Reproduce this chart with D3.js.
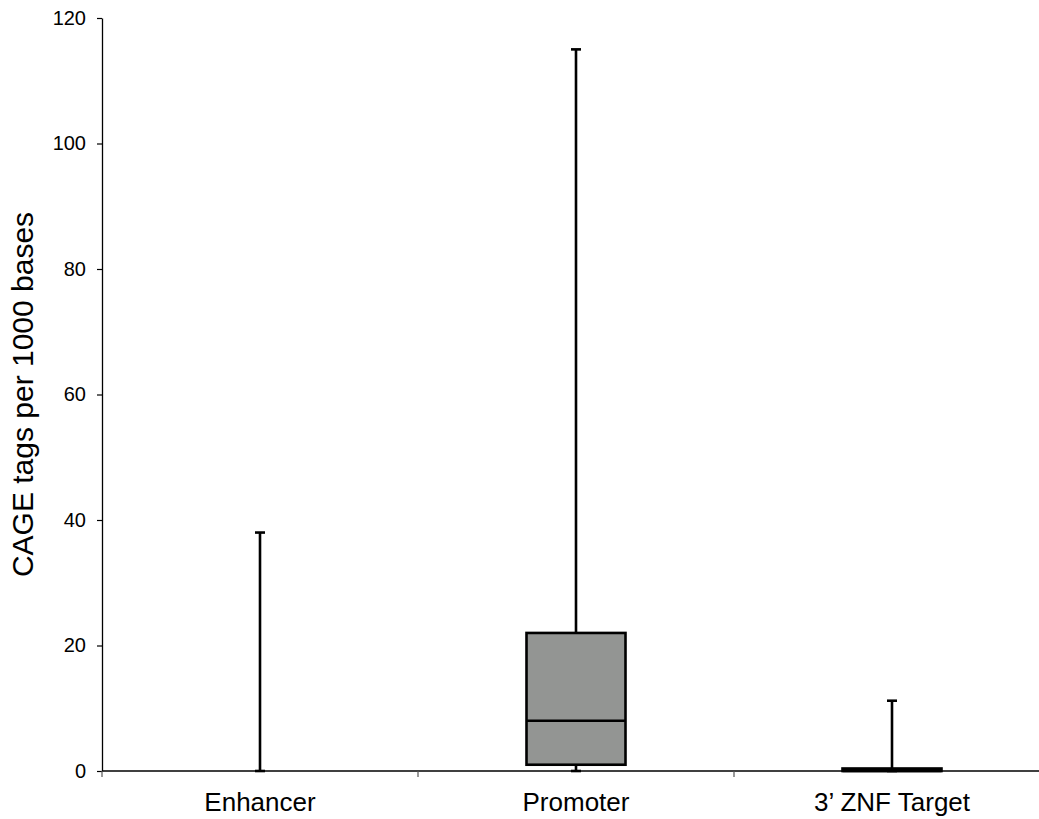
<!DOCTYPE html>
<html>
<head>
<meta charset="utf-8">
<script src="https://cdn.jsdelivr.net/npm/d3@7"></script>
<style>
  html, body { margin: 0; padding: 0; background: #fff; }
  svg { display: block; font-family: "Liberation Sans", Arial, Helvetica, sans-serif; }
</style>
</head>
<body>
<svg id="chart" width="1039" height="819"></svg>
<script>
// Box-plot summaries of CAGE tag density per region class
const categories = ["Enhancer", "Promoter", "3\u2019 ZNF Target"];
const whiskerLow  = [0, 0, 0];
const quartile1   = [0, 1, 0];
const medians     = [0, 8, 0];
const quartile3   = [0, 22, 0.4];
const whiskerHigh = [38, 115, 11.2];
const yTicks      = [0, 20, 40, 60, 80, 100, 120];

const svg = d3.select("#chart");
const margin = { left: 102, top: 18, bottom: 771 };

const x = d3.scaleBand()
  .domain(categories)
  .range([margin.left, 1050])
  .paddingInner(0).paddingOuter(0);

const y = d3.scaleLinear()
  .domain([0, 120])
  .range([margin.bottom, margin.top]);

// Y axis
const yAxis = svg.append("g")
  .attr("transform", `translate(${margin.left},0)`)
  .call(d3.axisLeft(y).tickValues(yTicks).tickSize(5).tickPadding(11).tickSizeOuter(0));
yAxis.select(".domain").attr("stroke", "#000").attr("stroke-width", 1.3);
yAxis.selectAll(".tick line").attr("stroke", "#000").attr("stroke-width", 1.2);
yAxis.selectAll(".tick text")
  .attr("fill", "#000")
  .style("font-size", "20px")
  .style("font-family", "'Liberation Sans', Arial, sans-serif");

// X axis: ticks sit on the band boundaries, pointing down
const xAxis = svg.append("g")
  .attr("transform", `translate(0,${margin.bottom})`);
xAxis.append("line")
  .attr("x1", margin.left).attr("x2", 1050)
  .attr("stroke", "#000").attr("stroke-width", 1.3);
const boundaries = categories.map(c => x(c)).concat([x.range()[1]]);
xAxis.selectAll("line.bt")
  .data(boundaries)
  .join("line")
  .attr("class", "bt")
  .attr("x1", d => d).attr("x2", d => d)
  .attr("y1", 0).attr("y2", 6)
  .attr("stroke", "#555").attr("stroke-width", 1.2);
xAxis.selectAll("text")
  .data(categories)
  .join("text")
  .attr("x", d => x(d) + x.bandwidth() / 2)
  .attr("y", 40)
  .attr("text-anchor", "middle")
  .attr("fill", "#000")
  .style("font-size", "26px")
  .text(d => d);

// Y axis title
svg.append("text")
  .attr("transform", `translate(33,${(margin.top + margin.bottom) / 2}) rotate(-90)`)
  .attr("text-anchor", "middle")
  .attr("fill", "#000")
  .style("font-size", "30px")
  .text("CAGE tags per 1000 bases");

// Box plots
const boxW = 99, capW = 10;
const stats = categories.map((c, i) => ({
  c, lo: whiskerLow[i], q1: quartile1[i], med: medians[i], q3: quartile3[i], hi: whiskerHigh[i]
}));

const g = svg.append("g").attr("class", "boxes");
stats.forEach(s => {
  const cx = x(s.c) + x.bandwidth() / 2;
  const grp = g.append("g");
  // whisker stems
  grp.append("line")
    .attr("x1", cx).attr("x2", cx)
    .attr("y1", y(s.q3)).attr("y2", y(s.hi))
    .attr("stroke", "#000").attr("stroke-width", 2.6);
  grp.append("line")
    .attr("x1", cx).attr("x2", cx)
    .attr("y1", y(s.lo)).attr("y2", y(s.q1))
    .attr("stroke", "#000").attr("stroke-width", 2.6);
  // caps
  [s.lo, s.hi].forEach(v => {
    grp.append("line")
      .attr("x1", cx - capW / 2).attr("x2", cx + capW / 2)
      .attr("y1", y(v)).attr("y2", y(v))
      .attr("stroke", "#000").attr("stroke-width", 2.6);
  });
  // box (skipped when the interquartile range is empty)
  if (s.q3 > s.q1) {
    grp.append("rect")
      .attr("x", cx - boxW / 2).attr("width", boxW)
      .attr("y", y(s.q3)).attr("height", y(s.q1) - y(s.q3))
      .attr("fill", "#939593")
      .attr("stroke", "#000").attr("stroke-width", 2.6);
    grp.append("line")
      .attr("x1", cx - boxW / 2).attr("x2", cx + boxW / 2)
      .attr("y1", y(s.med)).attr("y2", y(s.med))
      .attr("stroke", "#000").attr("stroke-width", 2.6);
  }
});
</script>
</body>
</html>
